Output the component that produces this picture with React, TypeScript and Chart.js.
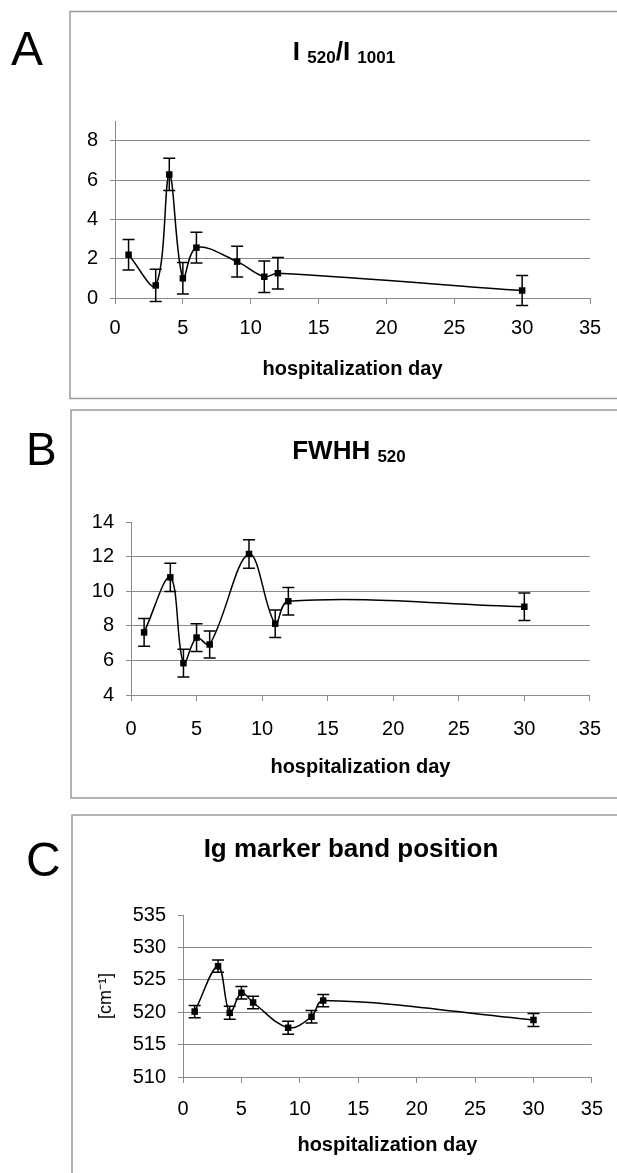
import React, { useEffect, useRef } from "react";
import { Chart, registerables } from "chart.js";

Chart.register(...registerables);

// ---------- data ----------
const days = [1, 3, 4, 5, 6, 9, 11, 12, 30];

const ratioValues = [2.2, 0.64, 6.28, 1.0, 2.56, 1.85, 1.08, 1.26, 0.38];
const ratioErrors = [0.78, 0.82, 0.82, 0.8, 0.78, 0.78, 0.8, 0.8, 0.76];

const fwhhValues = [7.62, 10.8, 5.84, 7.32, 6.92, 12.15, 8.12, 9.42, 9.1];
const fwhhErrors = [0.8, 0.82, 0.8, 0.8, 0.78, 0.82, 0.8, 0.8, 0.8];

const bandValues = [520.1, 527.1, 519.9, 523.0, 521.5, 517.6, 519.3, 521.8, 518.8];
const bandErrors = [0.95, 0.95, 1.0, 0.95, 0.95, 1.0, 0.95, 0.95, 1.0];

const xAxisTitle = "hospitalization day";
const xMin = 0;
const xMax = 35;
const xStep = 5;

const FONT = "'Liberation Sans', Arial, Helvetica, sans-serif";
const GRAY = "#8a8a8a";
const TICK_FONT = 20;
const AXIS_TITLE_FONT = 20;

type Part = { text: string; size: number; dy: number };

type Panel = {
  letter: string;
  titleParts: Part[];
  values: number[];
  errors: number[];
  yMin: number;
  yMax: number;
  yStep: number;
  yTitle?: string;
  top: number;
  height: number;
  area: { left: number; right: number; top: number; bottom: number };
  xTitleMid: number;
  xTickPad: number;
  frame: { x: number; top: number; bottom: number };
  letterPos: { x: number; y: number; size: number };
  titlePos: { x: number; y: number };
};

const panels: Panel[] = [
  {
    letter: "A",
    titleParts: [
      { text: "I ", size: 26, dy: 0 },
      { text: "520", size: 17, dy: 3 },
      { text: "/I ", size: 26, dy: 0 },
      { text: "1001", size: 17, dy: 3 },
    ],
    values: ratioValues,
    errors: ratioErrors,
    yMin: 0,
    yMax: 9,
    yStep: 2,
    top: 0,
    height: 400,
    area: { left: 115, right: 590, top: 121, bottom: 298 },
    xTitleMid: 369,
    xTickPad: 12,
    frame: { x: 70, top: 11.5, bottom: 398.5 },
    letterPos: { x: 11, y: 65, size: 48 },
    titlePos: { x: 344, y: 60 },
  },
  {
    letter: "B",
    titleParts: [
      { text: "FWHH ", size: 26, dy: 0 },
      { text: "520", size: 17, dy: 3 },
    ],
    values: fwhhValues,
    errors: fwhhErrors,
    yMin: 4,
    yMax: 14,
    yStep: 2,
    top: 400,
    height: 400,
    area: { left: 131, right: 594, top: 122, bottom: 295 },
    xTitleMid: 367,
    xTickPad: 16,
    frame: { x: 71, top: 10, bottom: 398 },
    letterPos: { x: 26, y: 65, size: 46 },
    titlePos: { x: 349, y: 59 },
  },
  {
    letter: "C",
    titleParts: [{ text: "Ig marker band position", size: 26, dy: 0 }],
    values: bandValues,
    errors: bandErrors,
    yMin: 510,
    yMax: 535,
    yStep: 5,
    yTitle: "[cm\u207B\u00B9]",
    top: 800,
    height: 373,
    area: { left: 183, right: 598, top: 115, bottom: 277 },
    xTitleMid: 345.5,
    xTickPad: 14,
    frame: { x: 72, top: 15, bottom: 420 },
    letterPos: { x: 26, y: 76, size: 48 },
    titlePos: { x: 351, y: 57 },
  },
];

const WIDTH = 617;

function isMajor(p: Panel, v: number) {
  const k = (v - p.yMin) / p.yStep;
  return Math.abs(k - Math.round(k)) < 1e-6;
}

function makePlugins(p: Panel) {
  const deco = {
    id: "panelDeco",
    beforeDraw(chart: any) {
      const ctx = chart.ctx as CanvasRenderingContext2D;
      ctx.save();
      ctx.fillStyle = "#fff";
      ctx.fillRect(0, 0, chart.width, chart.height);
      // frame
      ctx.strokeStyle = "#9a9a9a";
      ctx.lineWidth = 1.5;
      ctx.beginPath();
      ctx.moveTo(WIDTH + 5, p.frame.top);
      ctx.lineTo(p.frame.x, p.frame.top);
      ctx.lineTo(p.frame.x, p.frame.bottom);
      ctx.lineTo(WIDTH + 5, p.frame.bottom);
      ctx.stroke();
      // panel letter
      ctx.fillStyle = "#000";
      ctx.textBaseline = "alphabetic";
      ctx.textAlign = "left";
      ctx.font = `${p.letterPos.size}px ${FONT}`;
      ctx.fillText(p.letter, p.letterPos.x, p.letterPos.y);
      // title with subscripts
      let total = 0;
      for (const part of p.titleParts) {
        ctx.font = `bold ${part.size}px ${FONT}`;
        total += ctx.measureText(part.text).width;
      }
      let x = p.titlePos.x - total / 2;
      for (const part of p.titleParts) {
        ctx.font = `bold ${part.size}px ${FONT}`;
        ctx.fillText(part.text, x, p.titlePos.y + part.dy);
        x += ctx.measureText(part.text).width;
      }
      ctx.restore();
    },
  };
  const errorBars = {
    id: "errorBars",
    afterDatasetsDraw(chart: any) {
      const ctx = chart.ctx as CanvasRenderingContext2D;
      const xs = chart.scales.x;
      const ys = chart.scales.y;
      ctx.save();
      ctx.strokeStyle = "#000";
      ctx.lineWidth = 1.5;
      const cap = 6;
      days.forEach((d, i) => {
        const v = p.values[i];
        const e = p.errors[i];
        const px = xs.getPixelForValue(d);
        const y1 = ys.getPixelForValue(v + e);
        const y2 = ys.getPixelForValue(v - e);
        ctx.beginPath();
        ctx.moveTo(px, y1);
        ctx.lineTo(px, y2);
        ctx.moveTo(px - cap, y1);
        ctx.lineTo(px + cap, y1);
        ctx.moveTo(px - cap, y2);
        ctx.lineTo(px + cap, y2);
        ctx.stroke();
      });
      ctx.restore();
    },
  };
  return [deco, errorBars];
}

function makeConfig(p: Panel): any {
  const xH = 85;
  const xBottom = p.area.bottom + xH;
  const titleLH = AXIS_TITLE_FONT * 1.2;
  const xTitlePadBottom = xBottom - titleLH / 2 - p.xTitleMid;
  const yTitleFont = 18;
  return {
    type: "line",
    data: {
      datasets: [
        {
          data: days.map((d, i) => ({ x: d, y: p.values[i] })),
          borderColor: "#000",
          borderWidth: 1.5,
          tension: 0.36,
          fill: false,
          pointStyle: "rect",
          pointRadius: 4.6,
          pointBackgroundColor: "#000",
          pointBorderColor: "#000",
          pointBorderWidth: 0,
          clip: false,
        },
      ],
    },
    options: {
      responsive: false,
      animation: false,
      events: [],
      layout: {
        padding: {
          left: 0,
          right: WIDTH - p.area.right,
          top: p.area.top,
          bottom: p.height - xBottom,
        },
      },
      plugins: {
        legend: { display: false },
        tooltip: { enabled: false },
        title: { display: false },
      },
      scales: {
        x: {
          type: "linear",
          min: xMin,
          max: xMax,
          bounds: "data",
          ticks: {
            stepSize: xStep,
            color: "#000",
            font: { family: FONT, size: TICK_FONT },
            padding: p.xTickPad,
            maxRotation: 0,
          },
          grid: {
            drawOnChartArea: false,
            drawTicks: true,
            tickLength: 6,
            tickColor: GRAY,
            tickWidth: 1,
          },
          border: { display: true, color: GRAY, width: 1 },
          title: {
            display: true,
            text: xAxisTitle,
            color: "#000",
            font: { family: FONT, size: AXIS_TITLE_FONT, weight: "bold" },
            padding: { top: 0, bottom: xTitlePadBottom },
          },
          afterFit: (s: any) => {
            s.height = xH;
          },
        },
        y: {
          type: "linear",
          min: p.yMin,
          max: p.yMax,
          bounds: "data",
          ticks: {
            stepSize: p.yStep,
            color: "#000",
            font: { family: FONT, size: TICK_FONT },
            padding: 12,
            callback: (v: number) => (isMajor(p, v) ? String(v) : ""),
          },
          grid: {
            drawOnChartArea: true,
            drawTicks: true,
            tickLength: 5,
            lineWidth: 1,
            tickColor: (c: any) =>
              c.tick && !isMajor(p, c.tick.value) ? "rgba(0,0,0,0)" : GRAY,
            color: (c: any) =>
              c.tick &&
              (c.tick.value >= p.yMax ||
                c.tick.value === p.yMin ||
                !isMajor(p, c.tick.value))
                ? "rgba(0,0,0,0)"
                : GRAY,
          },
          border: { display: true, color: GRAY, width: 1 },
          title: p.yTitle
            ? {
                display: true,
                text: p.yTitle,
                color: "#000",
                font: { family: FONT, size: yTitleFont },
                padding: { top: 106 - (yTitleFont * 1.2) / 2, bottom: 0 },
              }
            : { display: false },
          afterFit: (s: any) => {
            s.width = p.area.left;
          },
        },
      },
    },
    plugins: makePlugins(p),
  };
}

function PanelChart({ panel }: { panel: Panel }) {
  const ref = useRef<HTMLCanvasElement | null>(null);
  useEffect(() => {
    if (!ref.current) return;
    const chart = new Chart(ref.current, makeConfig(panel));
    return () => chart.destroy();
  }, [panel]);
  return (
    <canvas
      ref={ref}
      width={WIDTH}
      height={panel.height}
      style={{
        position: "absolute",
        left: 0,
        top: panel.top,
        width: WIDTH,
        height: panel.height,
        display: "block",
      }}
    />
  );
}

export default function App() {
  return (
    <div
      style={{
        position: "absolute",
        left: 0,
        top: 0,
        width: WIDTH,
        height: 1173,
        background: "#fff",
        overflow: "hidden",
      }}
    >
      {panels.map((p) => (
        <PanelChart key={p.letter} panel={p} />
      ))}
    </div>
  );
}
